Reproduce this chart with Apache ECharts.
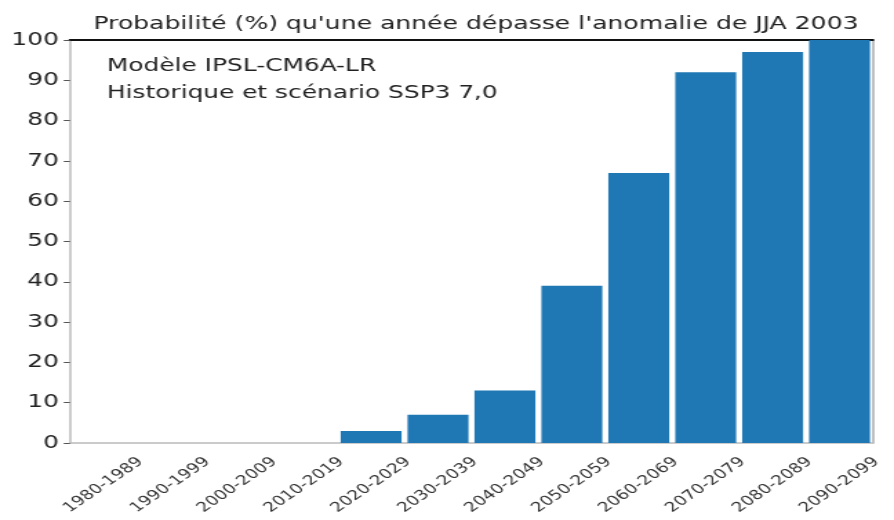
<!DOCTYPE html>
<html>
<head>
<meta charset="utf-8">
<script src="https://cdn.jsdelivr.net/npm/echarts@6/dist/echarts.min.js"></script>
<style>
  html, body { margin: 0; padding: 0; background: #fff; overflow: hidden; }
  /* the reference figure is stretched horizontally, so draw narrow and stretch */
  #chart { width: 648px; height: 520px; transform: scaleX(1.3796); transform-origin: 0 0; }
</style>
</head>
<body>
<div id="chart"></div>
<script>
// periodes et probabilites (%)
var decades = ['1980-1989', '1990-1999', '2000-2009', '2010-2019', '2020-2029', '2030-2039',
               '2040-2049', '2050-2059', '2060-2069', '2070-2079', '2080-2089', '2090-2099'];
var probas = [0, 0, 0, 0, 3, 7, 13, 39, 67, 92, 97, 100];
var yTicks = [0, 10, 20, 30, 40, 50, 60, 70, 80, 90, 100];

var chart = echarts.init(document.getElementById('chart'));
var font = 'DejaVu Sans';

var option = {
  animation: false,
  textStyle: { fontFamily: font },
  title: {
    text: "Probabilité (%) qu'une année dépasse l'anomalie de JJA 2003",
    left: 340, top: 10, textAlign: 'center',
    textStyle: { fontFamily: font, fontSize: 18.2, fontWeight: 'normal', color: '#222' }
  },
  graphic: [{
    type: 'text', left: 77.5, top: 53,
    style: {
      text: 'Modèle IPSL-CM6A-LR\nHistorique et scénario SSP3 7,0',
      font: '18px "DejaVu Sans"', fill: '#222', lineHeight: 27
    }
  }],
  grid: { left: 50.7, right: 15.2, top: 40, bottom: 77 },
  xAxis: [{
    type: 'category',
    data: decades,
    axisLine: { onZero: false, lineStyle: { color: '#bbb', width: 1.5 } },
    axisTick: { alignWithLabel: true, length: 5, lineStyle: { color: '#555' } },
    axisLabel: {
      rotate: 43, fontSize: 13.5, color: '#333', margin: 42,
      align: 'center', verticalAlign: 'middle'
    }
  }, {
    type: 'category',
    data: decades,
    position: 'top',
    axisLine: { onZero: false, lineStyle: { color: '#111', width: 2 } },
    axisTick: { show: false },
    axisLabel: { show: false }
  }],
  yAxis: [{
    type: 'value',
    min: 0, max: 100, interval: 10,
    axisLine: { show: true, lineStyle: { color: '#bbb', width: 1.5 } },
    axisTick: { show: true, length: 4.5, lineStyle: { color: '#555' } },
    axisLabel: {
      fontSize: 18, color: '#222', margin: 8,
      formatter: function (v) { return yTicks.indexOf(v) >= 0 ? String(v) : ''; }
    },
    splitLine: { show: false }
  }, {
    type: 'value',
    position: 'right',
    min: 0, max: 100,
    axisLine: { show: true, lineStyle: { color: '#aaa', width: 1.5 } },
    axisTick: { show: false },
    axisLabel: { show: false },
    splitLine: { show: false }
  }],
  series: [{
    type: 'bar',
    data: probas,
    barCategoryGap: '9%',
    itemStyle: { color: '#1f77b4' }
  }]
};

chart.setOption(option);
</script>
</body>
</html>
